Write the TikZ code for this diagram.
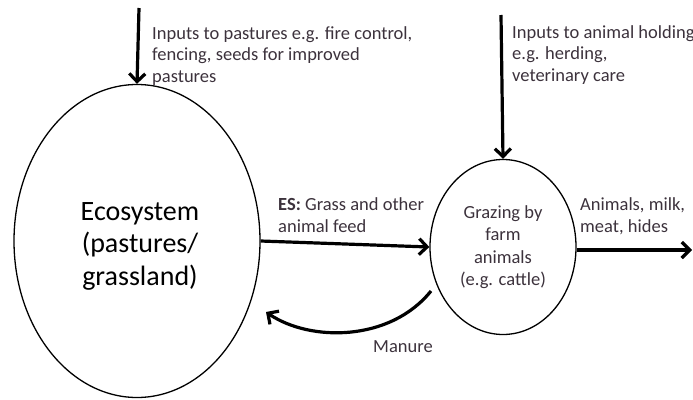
\documentclass[tikz,border=0pt]{standalone}
\usepackage{fontspec}
\setmainfont{Carlito}
\usetikzlibrary{shapes.geometric,arrows.meta}
\definecolor{txt}{RGB}{60,50,60}
\tikzset{
  flow/.style={line width=3.2pt,-{Straight Barb[length=8pt,width=16pt,line width=3.2pt]}},
  note/.style={anchor=base west,align=left,inner sep=0pt,text=txt,font=\fontsize{18.5}{21.5}\selectfont}
}
\begin{document}
\begin{tikzpicture}[x=1pt,y=-1pt]
\useasboundingbox (0,0) rectangle (693,399);
% ecosystem and grazing
\node (eco) [ellipse,draw,line width=1.3pt,minimum width=246,minimum height=313,inner sep=0pt] at (137,241) {};
\node (ecolabel) [align=center,inner sep=0pt,font=\fontsize{28}{32.5}\selectfont]
  at ([xshift=3pt,yshift=-5pt]eco.center) {Ecosystem\\(pastures/\\grassland)};
\node (graze) [ellipse,draw,line width=1.3pt,minimum width=146,minimum height=175,inner sep=0pt,
  align=center,text=txt,font=\fontsize{18.5}{22.5}\selectfont] at (503,247) {Grazing by\\farm\\animals\\(e.g. cattle)};
% inputs
\coordinate (intop1) at (139,8);
\coordinate (intop2) at (501,15);
\draw [flow] (intop1) -- (eco.north);
\draw [flow] (intop2) -- (graze.north);
\node (inpast) [note] at (152,82) {Inputs to pastures e.g. fire control,\\fencing, seeds for improved\\pastures};
\node (inanim) [note] at (512,81) {Inputs to animal holding\\e.g. herding,\\veterinary care};
% flows
\draw [flow] (eco.east) -- (graze.west);
\node (es) [note] at (278,232) {\textbf{ES:} Grass and other\\animal feed};
\coordinate (outend) at (692,250);
\draw [flow] (graze.east |- outend) -- (outend);
\node (prod) [note] at (580,232) {Animals, milk,\\meat, hides};
\coordinate (manstart) at (431,291);
\coordinate (manend) at (266,312);
\draw [flow] (manstart) .. controls (390,342) and (310,342) .. (manend);
\node (manure) [note] at (373,352) {Manure};
\end{tikzpicture}
\end{document}
